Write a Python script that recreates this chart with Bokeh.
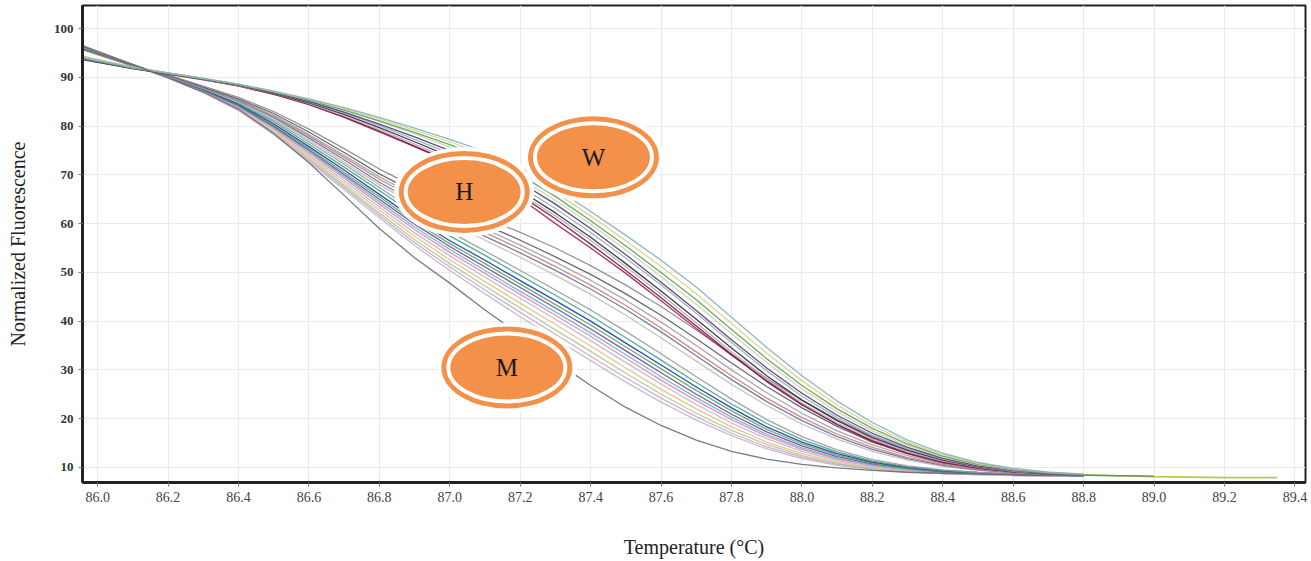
from bokeh.plotting import figure
from bokeh.models import Range1d, FixedTicker, NumeralTickFormatter
from bokeh.embed import file_html
from bokeh.resources import INLINE
from bokeh.core.properties import value

# ---------------- data ----------------
temps = [85.96, 86.1, 86.2, 86.3, 86.4, 86.5, 86.6, 86.7, 86.8, 86.9,
         87.0, 87.1, 87.2, 87.3, 87.4, 87.5, 87.6, 87.7, 87.8, 87.9,
         88.0, 88.1, 88.2, 88.3, 88.4, 88.5, 88.6, 88.7, 88.8]

# wild-type (W) curves
w01 = [94.0, 92.0, 90.9, 89.8, 88.6, 87.2, 85.6, 83.8, 81.8, 79.6, 77.3, 74.8, 71.6, 67.3, 62.5, 57.6, 52.5, 47.0, 40.8, 34.6, 28.8, 23.6, 19.2, 15.6, 12.9, 11.0, 9.8, 9.0, 8.6]
w02 = [94.2, 92.1, 90.9, 89.8, 88.6, 87.1, 85.5, 83.6, 81.5, 79.2, 76.8, 74.1, 70.8, 66.4, 61.6, 56.5, 51.2, 45.6, 39.5, 33.4, 27.8, 22.8, 18.6, 15.2, 12.6, 10.8, 9.7, 9.0, 8.6]
w03 = [93.8, 91.9, 90.8, 89.7, 88.5, 87.0, 85.3, 83.3, 81.1, 78.7, 76.2, 73.4, 70.0, 65.6, 60.6, 55.4, 50.0, 44.4, 38.3, 32.3, 26.8, 22.0, 18.0, 14.8, 12.3, 10.6, 9.6, 8.9, 8.5]
w04 = [94.0, 92.0, 90.9, 89.8, 88.6, 87.1, 85.4, 83.4, 81.0, 78.4, 75.7, 72.8, 69.2, 64.8, 59.9, 54.6, 49.1, 43.4, 37.4, 31.5, 26.1, 21.4, 17.5, 14.5, 12.1, 10.5, 9.5, 8.9, 8.5]
w05 = [93.6, 91.8, 90.8, 89.7, 88.5, 86.9, 85.1, 82.9, 80.4, 77.8, 75.0, 72.0, 68.5, 64.0, 59.0, 53.6, 48.0, 42.2, 36.2, 30.4, 25.2, 20.7, 17.0, 14.1, 11.9, 10.3, 9.4, 8.8, 8.5]
w06 = [94.3, 92.1, 90.9, 89.8, 88.5, 86.9, 85.0, 82.7, 80.1, 77.3, 74.4, 71.2, 67.6, 63.1, 58.2, 52.9, 47.4, 41.6, 35.6, 29.8, 24.6, 20.2, 16.6, 13.8, 11.7, 10.2, 9.3, 8.8, 8.4]
w07 = [93.9, 91.9, 90.8, 89.7, 88.4, 86.8, 84.8, 82.4, 79.7, 76.8, 73.8, 70.5, 66.8, 62.2, 57.2, 51.8, 46.2, 40.4, 34.5, 28.8, 23.8, 19.6, 16.1, 13.5, 11.5, 10.1, 9.3, 8.7, 8.4]
w08 = [94.1, 92.0, 90.8, 89.6, 88.3, 86.7, 84.6, 82.1, 79.3, 76.3, 73.2, 69.9, 66.2, 61.6, 56.6, 51.2, 45.5, 39.6, 33.7, 28.1, 23.2, 19.1, 15.8, 13.2, 11.3, 10.0, 9.2, 8.7, 8.4]
w09 = [93.7, 91.8, 90.7, 89.6, 88.3, 86.6, 84.5, 81.9, 79.0, 75.9, 72.8, 69.5, 65.8, 61.0, 55.8, 50.4, 44.8, 39.0, 33.2, 27.6, 22.8, 18.8, 15.5, 13.0, 11.2, 9.9, 9.1, 8.6, 8.4]
w10 = [94.0, 91.9, 90.7, 89.5, 88.2, 86.5, 84.4, 81.8, 78.8, 75.8, 72.6, 69.2, 65.2, 60.0, 55.0, 49.8, 44.2, 38.5, 33.0, 27.8, 23.0, 18.8, 15.3, 12.8, 11.0, 9.8, 9.1, 8.7, 8.4]

# intermediate curves
d01 = [95.6, 92.3, 90.5, 88.2, 85.9, 83.0, 79.4, 75.4, 71.2, 67.6, 64.3, 61.2, 58.2, 55.0, 51.4, 47.4, 43.0, 38.2, 33.2, 28.3, 23.8, 19.8, 16.4, 13.7, 11.7, 10.3, 9.4, 8.9, 8.5]
d02 = [95.8, 92.4, 90.4, 88.0, 85.6, 82.6, 78.8, 74.6, 70.2, 66.5, 63.0, 59.8, 56.6, 53.2, 49.6, 45.6, 41.2, 36.4, 31.4, 26.6, 22.2, 18.4, 15.2, 12.8, 11.0, 9.9, 9.2, 8.8, 8.5]
d03 = [96.0, 92.4, 90.4, 87.9, 85.4, 82.2, 78.3, 74.0, 69.6, 65.8, 62.2, 58.9, 55.6, 52.1, 48.4, 44.3, 39.8, 35.0, 30.0, 25.3, 21.1, 17.5, 14.6, 12.4, 10.8, 9.7, 9.1, 8.7, 8.4]
d04 = [95.7, 92.3, 90.3, 87.9, 85.3, 82.0, 78.0, 73.6, 69.1, 65.2, 61.6, 58.2, 54.8, 51.2, 47.4, 43.2, 38.6, 33.7, 28.8, 24.2, 20.2, 16.8, 14.1, 12.0, 10.6, 9.6, 9.0, 8.6, 8.4]
d05 = [96.2, 92.5, 90.3, 87.8, 85.2, 81.8, 77.6, 73.1, 68.5, 64.5, 60.8, 57.4, 54.0, 50.4, 46.6, 42.4, 37.8, 32.9, 28.0, 23.5, 19.6, 16.3, 13.7, 11.8, 10.4, 9.5, 8.9, 8.6, 8.3]
d06 = [95.9, 92.4, 90.2, 87.7, 85.0, 81.5, 77.2, 72.6, 68.0, 63.9, 60.1, 56.6, 53.1, 49.4, 45.5, 41.2, 36.6, 31.8, 27.0, 22.7, 18.9, 15.8, 13.3, 11.5, 10.2, 9.4, 8.9, 8.5, 8.3]

# heterozygous (H) curves
h01 = [96.1, 92.5, 90.3, 87.8, 84.9, 81.2, 76.8, 72.2, 67.4, 62.6, 58.3, 54.4, 50.4, 46.4, 42.3, 37.9, 33.3, 28.6, 24.0, 19.8, 16.3, 13.6, 11.6, 10.3, 9.5, 9.0, 8.7, 8.5, 8.3]
h02 = [95.8, 92.4, 90.2, 87.7, 84.7, 80.9, 76.3, 71.6, 66.8, 61.9, 57.5, 53.5, 49.4, 45.3, 41.1, 36.6, 32.0, 27.4, 23.0, 19.0, 15.7, 13.2, 11.3, 10.1, 9.4, 8.9, 8.6, 8.4, 8.3]
h03 = [96.0, 92.5, 90.2, 87.6, 84.5, 80.5, 75.8, 71.0, 66.0, 61.0, 56.5, 52.5, 48.3, 44.2, 40.0, 35.5, 31.0, 26.5, 22.2, 18.3, 15.2, 12.8, 11.1, 10.0, 9.3, 8.9, 8.6, 8.4, 8.3]
h04 = [96.3, 92.6, 90.2, 87.5, 84.3, 80.2, 75.4, 70.5, 65.5, 60.4, 55.9, 51.8, 47.6, 43.4, 39.2, 34.7, 30.2, 25.8, 21.6, 17.8, 14.8, 12.5, 10.9, 9.9, 9.2, 8.8, 8.6, 8.4, 8.3]
h05 = [96.0, 92.5, 90.1, 87.4, 84.2, 80.0, 75.1, 70.1, 65.0, 59.9, 55.3, 51.1, 46.9, 42.7, 38.4, 33.9, 29.4, 25.0, 20.9, 17.3, 14.4, 12.2, 10.7, 9.8, 9.1, 8.8, 8.5, 8.4, 8.3]
h06 = [96.4, 92.6, 90.1, 87.4, 84.1, 79.8, 74.8, 69.7, 64.5, 59.3, 54.7, 50.4, 46.1, 41.9, 37.6, 33.1, 28.6, 24.3, 20.3, 16.8, 14.0, 11.9, 10.5, 9.6, 9.0, 8.7, 8.5, 8.3, 8.2]
h07 = [95.7, 92.4, 90.1, 87.3, 84.0, 79.6, 74.5, 69.3, 64.0, 58.8, 54.1, 49.8, 45.5, 41.2, 36.9, 32.4, 27.9, 23.7, 19.8, 16.4, 13.7, 11.7, 10.4, 9.5, 9.0, 8.7, 8.5, 8.3, 8.2]
h08 = [96.2, 92.5, 90.0, 87.2, 83.8, 79.3, 74.1, 68.8, 63.4, 58.1, 53.4, 49.0, 44.7, 40.4, 36.0, 31.5, 27.1, 22.9, 19.1, 15.9, 13.3, 11.4, 10.2, 9.4, 8.9, 8.6, 8.4, 8.3, 8.2]
h09 = [96.5, 92.6, 90.0, 87.1, 83.6, 79.0, 73.7, 68.3, 62.8, 57.4, 52.6, 48.1, 43.7, 39.3, 34.9, 30.4, 26.0, 22.0, 18.3, 15.2, 12.8, 11.1, 10.0, 9.3, 8.8, 8.6, 8.4, 8.3, 8.2]
h10 = [96.0, 92.5, 90.0, 87.0, 83.5, 78.8, 73.3, 67.8, 62.2, 56.7, 51.8, 47.2, 42.7, 38.2, 33.8, 29.3, 25.0, 21.1, 17.6, 14.7, 12.4, 10.8, 9.8, 9.2, 8.8, 8.5, 8.4, 8.3, 8.2]
h11 = [96.3, 92.6, 89.9, 86.9, 83.3, 78.5, 73.0, 67.4, 61.7, 56.1, 51.1, 46.4, 41.8, 37.3, 32.8, 28.4, 24.2, 20.4, 17.0, 14.2, 12.1, 10.6, 9.7, 9.1, 8.7, 8.5, 8.3, 8.2, 8.2]
h12 = [95.9, 92.4, 89.9, 86.9, 83.2, 78.3, 72.7, 67.0, 61.2, 55.5, 50.4, 45.6, 40.9, 36.4, 31.9, 27.5, 23.4, 19.7, 16.5, 13.8, 11.8, 10.4, 9.6, 9.0, 8.7, 8.5, 8.3, 8.2, 8.2]

# mutant (M) curve
m01 = [96.3, 92.6, 89.9, 87.0, 83.5, 78.5, 72.5, 65.8, 59.0, 53.0, 47.8, 42.3, 37.2, 31.8, 26.8, 22.3, 18.6, 15.6, 13.3, 11.7, 10.6, 9.9, 9.4, 9.0, 8.8, 8.6, 8.5, 8.4, 8.3]

# plateau tails beyond 88.8
tail_temps_a = [88.8, 88.9, 89.0, 89.1, 89.2, 89.35]
tail_vals_a = [8.5, 8.3, 8.1, 8.0, 7.9, 7.9]
tail_temps_b = [88.8, 88.9, 89.0]
tail_vals_b = [8.4, 8.3, 8.2]

x_ticks = [86.0, 86.2, 86.4, 86.6, 86.8, 87.0, 87.2, 87.4, 87.6, 87.8,
           88.0, 88.2, 88.4, 88.6, 88.8, 89.0, 89.2, 89.4]
y_ticks = [10, 20, 30, 40, 50, 60, 70, 80, 90, 100]

group_labels = ["H", "W", "M"]
label_x = [87.041, 87.408, 87.162]
label_y = [66.5, 73.6, 30.5]

# ---------------- figure ----------------
SERIF = "Liberation Serif"
p = figure(width=1311, height=561, output_backend="svg", toolbar_location=None,
           x_range=Range1d(85.957, 89.43), y_range=Range1d(6.9, 104.75),
           min_border_left=82, min_border_right=6, min_border_top=5,
           min_border_bottom=79)
p.background_fill_color = "white"
p.border_fill_color = "white"
p.outline_line_color = "#222222"
p.outline_line_width = 2

p.xaxis.ticker = FixedTicker(ticks=x_ticks)
p.yaxis.ticker = FixedTicker(ticks=y_ticks)
p.xaxis.formatter = NumeralTickFormatter(format="0.0")
p.xgrid.ticker = FixedTicker(ticks=x_ticks)
p.ygrid.ticker = FixedTicker(ticks=y_ticks)
p.grid.grid_line_color = "#EAEAEA"
p.grid.grid_line_width = 1.2

for ax in (p.xaxis, p.yaxis):
    ax.axis_line_color = "#222222"
    ax.axis_line_width = 3
    ax.major_tick_line_color = "#777777"
    ax.major_tick_out = 4
    ax.major_tick_in = 0
    ax.minor_tick_line_color = None
    ax.major_label_text_font = SERIF
    ax.axis_label_text_font = SERIF
    ax.axis_label_text_font_style = "normal"
    ax.axis_label_text_font_size = "20px"
    ax.axis_label_text_color = "#222222"

p.xaxis.major_label_text_font_size = "14px"
p.xaxis.major_label_text_color = "#444444"
p.yaxis.major_label_text_font_size = "13px"
p.yaxis.major_label_text_font_style = "bold"
p.yaxis.major_label_text_color = "#333333"
p.xaxis.axis_label = "Temperature (°C)"
p.yaxis.axis_label = "Normalized Fluorescence"
p.xaxis.axis_label_standoff = 31
p.yaxis.axis_label_standoff = 22

curves = [
    (h12, "#B8B8D0"), (h11, "#D6A2C0"), (h10, "#A8C8A0"), (h09, "#E8C07A"),
    (h08, "#C3B0D8"), (h07, "#E08AA8"), (h06, "#5FB7C7"), (h05, "#7B3FA0"),
    (h04, "#4CAF50"), (h03, "#2433A8"), (h02, "#3CA58A"), (h01, "#9A9A9A"),
    (d06, "#BDBDBD"), (d05, "#6F6F9F"), (d04, "#C08080"), (d03, "#A0A0A0"),
    (d02, "#5A5A6A"), (d01, "#8A8A8A"),
    (w10, "#A02050"), (w09, "#7A1A38"), (w08, "#B7A5C9"), (w07, "#2E2E2E"),
    (w06, "#9AA8B8"), (w05, "#4B3A7A"), (w04, "#C9D89A"), (w03, "#5E9C6E"),
    (w02, "#D8D27A"), (w01, "#7FAFC0"),
    (m01, "#6B6B7B"),
]
for vals, col in curves:
    p.line(temps, vals, line_color=col, line_width=1.3, line_alpha=0.9)

p.line(tail_temps_a, tail_vals_a, line_color="#B5C94A", line_width=1.6)
p.line(tail_temps_b, tail_vals_b, line_color="#6E8E5A", line_width=1.4)

# group markers: white halo, orange ring, white ring, orange fill
ORANGE = "#F3914A"
p.ellipse(label_x, label_y, width=140, height=90, width_units="screen",
          height_units="screen", fill_color="white", line_color=None)
p.ellipse(label_x, label_y, width=131, height=82, width_units="screen",
          height_units="screen", fill_color=ORANGE, line_color=None)
p.ellipse(label_x, label_y, width=117, height=68, width_units="screen",
          height_units="screen", fill_color=ORANGE, line_color="white",
          line_width=4)
p.text(label_x, label_y, text=group_labels, text_align="center",
       text_baseline="middle", text_font=value(SERIF),
       text_font_size="25px", text_color="#1A1A1A")

open("out.html", "w").write(file_html(p, INLINE))
